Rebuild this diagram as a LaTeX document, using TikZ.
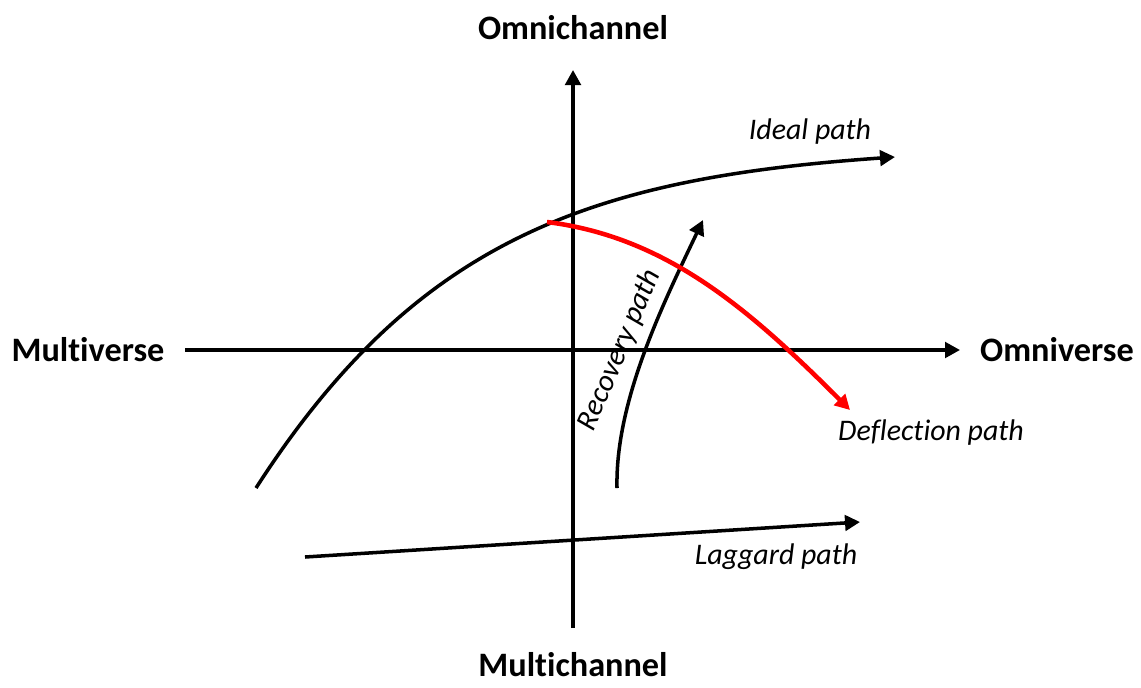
\documentclass[tikz,border=0pt]{standalone}
\usepackage{fontspec}
\setmainfont{Carlito}[Ligatures=CommonOff]
\usetikzlibrary{arrows.meta,positioning}
\tikzset{every node/.append style={align=center}}

\begin{document}
\begin{tikzpicture}[x=0.02cm, y=-0.02cm, >={Triangle[length=0.3cm,width=0.31cm]},
  axislabel/.style={font=\fontsize{19.5}{22}\selectfont\bfseries},
  pathlabel/.style={font=\fontsize{17}{20}\selectfont\itshape},
  axisline/.style={line width=2pt},
  trend/.style={line width=2pt}]
  \useasboundingbox (0,0) rectangle (1141,687);
  % axes
  \node[axislabel] (omnich) at (573,28) {Omnichannel};
  \node[axislabel] (multich) at (573,665) {Multichannel};
  \node[axislabel] (multiv) at (88,350) {Multiverse};
  \node[axislabel] (omniv) at (1057,350) {Omniverse};
  \coordinate (vbot) at (573,628);
  \coordinate (vtop) at (573,70);
  \coordinate (hleft) at (185,350);
  \coordinate (hright) at (960,350);
  \draw[->, axisline] (vbot) -- (vtop);
  \draw[->, axisline] (hleft) -- (hright);
  % paths
  \coordinate (idealA) at (256,488);
  \coordinate (idealB) at (895,157);
  \coordinate (deflA) at (547,222);
  \coordinate (deflB) at (850,410);
  \coordinate (recA) at (617,488);
  \coordinate (recB) at (703,220);
  \coordinate (lagA) at (305,557);
  \coordinate (lagB) at (860,522);
  \draw[->, trend] (idealA) .. controls (418,236) and (595,178) .. (idealB);
  \draw[->, trend] (recA) .. controls (615,400) and (665,300) .. (recB);
  \draw[->, trend] (lagA) -- (lagB);
  \draw[->, red, line width=2.6pt] (deflA) .. controls (667,237) and (750,310) .. (deflB);
  \node[pathlabel] (ideal) at (810,132) {Ideal path};
  \node[pathlabel] (defl) at (931,433) {Deflection path};
  \node[pathlabel, rotate=67] (rec) at (620,350) {Recovery path};
  \node[pathlabel] (lag) at (776,557) {Laggard path};
\end{tikzpicture}
\end{document}
